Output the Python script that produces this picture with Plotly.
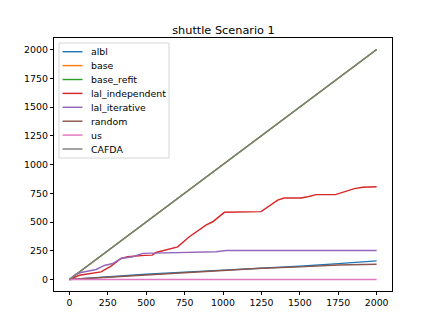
import plotly.graph_objects as go

# ---- data ----
diag_x = [0, 2000]
diag_y = [0, 2000]

albl_x = [0, 250, 500, 750, 1000, 1250, 1500, 1750, 2000]
albl_y = [0, 25, 45, 64, 80, 98, 115, 138, 162]

base_x = diag_x
base_y = diag_y
base_refit_x = diag_x
base_refit_y = diag_y

lal_ind_x = [0, 65, 206, 271, 336, 380, 488, 540, 564, 640, 705, 781, 889, 933, 1009, 1248,
             1356, 1399, 1508, 1552, 1606, 1732, 1801, 1855, 1910, 2000]
lal_ind_y = [0, 37, 66, 116, 183, 198, 210, 212, 235, 264, 284, 372, 473, 502, 584, 590,
             691, 709, 709, 720, 738, 738, 767, 790, 802, 807]

lal_it_x = [0, 43, 76, 174, 228, 282, 336, 412, 477, 586, 738, 955, 1020, 2000]
lal_it_y = [0, 46, 61, 87, 122, 139, 183, 198, 227, 230, 233, 241, 252, 252]

random_x = [0, 250, 500, 750, 1000, 1250, 1500, 1750, 2000]
random_y = [0, 20, 38, 58, 75, 98, 110, 126, 132]

us_x = [0, 2000]
us_y = [0, 0]

cafda_x = diag_x
cafda_y = diag_y

names = ["albl", "base", "base_refit", "lal_independent", "lal_iterative", "random", "us", "CAFDA"]
colors = ["#1f77b4", "#ff7f0e", "#2ca02c", "#d62728", "#9467bd", "#8c564b", "#e377c2", "#7f7f7f"]
series = [(albl_x, albl_y), (base_x, base_y), (base_refit_x, base_refit_y), (lal_ind_x, lal_ind_y),
          (lal_it_x, lal_it_y), (random_x, random_y), (us_x, us_y), (cafda_x, cafda_y)]

ticks = [0, 250, 500, 750, 1000, 1250, 1500, 1750, 2000]

W, H = 436, 327
L, R, T, B = 54, 392, 38, 291  # plot-area edges in pixels
PW, PH = R - L, B - T


def fx(px):
    return (px - L) / PW


def fy(py):
    return (B - py) / PH


fig = go.Figure()
for name, col, (xs, ys) in zip(names, colors, series):
    fig.add_trace(go.Scatter(x=xs, y=ys, mode="lines", name=name,
                             line=dict(color=col, width=1.45), showlegend=False))

font = dict(family="DejaVu Sans", size=9.4, color="black")
axis_common = dict(showgrid=False, zeroline=False, showline=True, linecolor="black", linewidth=0.8,
                   mirror=True, ticks="outside", ticklen=3.3, tickwidth=0.8, tickcolor="black",
                   tickvals=ticks, ticktext=[str(t) for t in ticks], tickfont=font)

# matplotlib-style legend box (compact entries)
shapes = [dict(type="rect", xref="paper", yref="paper", x0=fx(59), x1=fx(169), y0=fy(158), y1=fy(43),
               line=dict(color="#cccccc", width=0.8), fillcolor="rgba(255,255,255,0.8)", layer="above")]
annotations = []
row0, step = 51.7, 13.9
for i, (name, col) in enumerate(zip(names, colors)):
    py = row0 + step * i
    shapes.append(dict(type="line", xref="paper", yref="paper", x0=fx(62.5), x1=fx(82.5),
                       y0=fy(py), y1=fy(py), line=dict(color=col, width=1.45), layer="above"))
    annotations.append(dict(text=name, xref="paper", yref="paper", x=fx(89), y=fy(py),
                            xanchor="left", yanchor="middle", showarrow=False, font=font))

fig.update_layout(
    width=W, height=H,
    margin=dict(l=L, r=W - R, t=T, b=H - B),
    paper_bgcolor="white", plot_bgcolor="white",
    title=dict(text="shuttle Scenario 1", x=fx(223.5) * PW / W + L / W, xanchor="center",
               y=1 - 30 / H, yanchor="middle",
               font=dict(family="DejaVu Sans", size=11.3, color="black")),
    xaxis=dict(range=[-100, 2100], **axis_common),
    yaxis=dict(range=[-100, 2100], **axis_common),
    shapes=shapes,
    annotations=annotations,
    showlegend=False,
)

fig.write_html("out.html", config={"displayModeBar": False},
               post_script="document.body.style.margin='0px';")
